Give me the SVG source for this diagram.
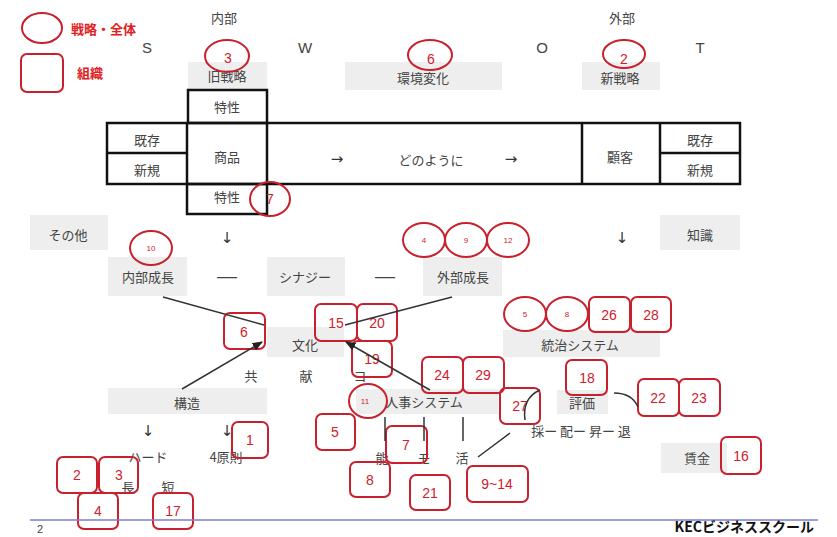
<svg xmlns="http://www.w3.org/2000/svg" width="837" height="537" viewBox="0 0 837 537">
<defs>
<style>
.g{fill:#eeeeee}
.t{font-family:"Noto Sans CJK JP","Noto Sans",sans-serif;font-size:13px;fill:#444;text-anchor:middle}
.a{font-family:"DejaVu Sans",sans-serif;font-size:15px;fill:#333;text-anchor:middle}
.d{font-family:"Liberation Sans",sans-serif;font-size:20px;fill:#444;text-anchor:middle}
.l{font-family:"Liberation Sans",sans-serif;font-size:15px;fill:#444;text-anchor:middle}
.r{fill:none;stroke:#c8202c;stroke-width:2}
.rn{font-family:"Liberation Sans",sans-serif;font-size:14px;fill:#d0202c;text-anchor:middle}
.sn{font-family:"Liberation Sans",sans-serif;font-size:8px;fill:#d0202c;text-anchor:middle}
.tb{fill:none;stroke:#111;stroke-width:2.5}
.ln{fill:none;stroke:#333;stroke-width:1.5}
.leg{font-family:"Noto Sans CJK JP",sans-serif;font-size:13px;font-weight:bold;fill:#e02020}
</style>
<marker id="ah" viewBox="0 0 10 10" refX="9" refY="5" markerWidth="7" markerHeight="7" orient="auto"><path d="M0,1 L10,5 L0,9 z" fill="#222"/></marker>
</defs>
<rect width="837" height="537" fill="#fff"/>

<g id="legend">
<ellipse class="r" cx="42" cy="28" rx="20" ry="15"/>
<text class="leg" x="71" y="34">戦略・全体</text>
<rect class="r" x="21" y="54" width="42" height="38" rx="6"/>
<text class="leg" x="77" y="78">組織</text>
</g>

<g id="headers">
<text class="t" x="224" y="23">内部</text>
<text class="t" x="622" y="23">外部</text>
<text class="l" x="147" y="53">S</text>
<text class="l" x="305" y="53">W</text>
<text class="l" x="542" y="53">O</text>
<text class="l" x="700" y="53">T</text>
</g>

<g id="old-strategy">
<rect class="g" x="188" y="62" width="79" height="27"/>
<text class="t" x="227" y="81">旧戦略</text>
<ellipse class="r" cx="227" cy="56" rx="22" ry="16"/>
<text class="rn" x="228" y="63">3</text>
</g>
<g id="env-change">
<rect class="g" x="345" y="62" width="157" height="28"/>
<text class="t" x="423" y="83">環境変化</text>
<ellipse class="r" cx="430" cy="55" rx="22" ry="15"/>
<text class="rn" x="431" y="64">6</text>
</g>
<g id="new-strategy">
<rect class="g" x="582" y="62" width="78" height="28"/>
<text class="t" x="620" y="83">新戦略</text>
<ellipse class="r" cx="624" cy="54" rx="21" ry="14"/>
<text class="rn" x="624" y="64">2</text>
</g>

<g id="table">
<rect class="tb" x="188" y="90" width="79" height="33"/>
<rect class="tb" x="107" y="123" width="633" height="61"/>
<line class="tb" x1="187" y1="123" x2="187" y2="184"/>
<line class="tb" x1="267" y1="123" x2="267" y2="184"/>
<line class="tb" x1="582" y1="123" x2="582" y2="184"/>
<line class="tb" x1="660" y1="123" x2="660" y2="184"/>
<line class="tb" x1="107" y1="153" x2="187" y2="153"/>
<line class="tb" x1="660" y1="153" x2="740" y2="153"/>
<rect class="tb" x="187" y="184" width="80" height="30"/>
<text class="t" x="227" y="112">特性</text>
<text class="t" x="147" y="145">既存</text>
<text class="t" x="147" y="175">新規</text>
<text class="t" x="227" y="162">商品</text>
<text class="a" x="337" y="164">→</text>
<text class="t" x="431" y="165">どのように</text>
<text class="a" x="511" y="164">→</text>
<text class="t" x="620" y="162">顧客</text>
<text class="t" x="700" y="145">既存</text>
<text class="t" x="700" y="175">新規</text>
<text class="t" x="227" y="202">特性</text>
<ellipse class="r" cx="270" cy="199" rx="20" ry="17"/>
<text class="rn" x="270" y="204">7</text>
</g>

<g id="other">
<rect class="g" x="30" y="215" width="78" height="35"/>
<text class="t" x="68" y="240">その他</text>
</g>
<g id="knowledge">
<rect class="g" x="660" y="215" width="80" height="35"/>
<text class="t" x="700" y="240">知識</text>
</g>
<g id="down-arrows">
<text class="a" x="227" y="243">↓</text>
<text class="a" x="622" y="243">↓</text>
</g>

<g id="internal-growth">
<rect class="g" x="108" y="257" width="79" height="39"/>
<text class="t" x="148" y="282">内部成長</text>
<ellipse class="r" cx="151" cy="248" rx="21" ry="17"/>
<text class="sn" x="151" y="251">10</text>
</g>
<text class="d" x="227" y="283">—</text>
<g id="synergy">
<rect class="g" x="267" y="257" width="78" height="39"/>
<text class="t" x="305" y="282">シナジー</text>
</g>
<text class="d" x="385" y="283">—</text>
<g id="external-growth">
<rect class="g" x="423" y="257" width="79" height="39"/>
<text class="t" x="463" y="282">外部成長</text>
<ellipse class="r" cx="424" cy="240" rx="21" ry="17"/>
<text class="sn" x="424" y="243">4</text>
<ellipse class="r" cx="466" cy="240" rx="21" ry="17"/>
<text class="sn" x="466" y="243">9</text>
<ellipse class="r" cx="508" cy="240" rx="21" ry="17"/>
<text class="sn" x="508" y="243">12</text>
</g>

<g id="governance">
<rect class="g" x="503" y="330" width="157" height="27"/>
<text class="t" x="580" y="350">統治システム</text>
<ellipse class="r" cx="525" cy="314" rx="21" ry="17"/>
<text class="sn" x="525" y="317">5</text>
<ellipse class="r" cx="567" cy="314" rx="21" ry="17"/>
<text class="sn" x="567" y="317">8</text>
<rect class="r" x="589" y="297" width="41" height="35" rx="6"/>
<text class="rn" x="609" y="320">26</text>
<rect class="r" x="631" y="297" width="40" height="35" rx="6"/>
<text class="rn" x="651" y="320">28</text>
</g>

<g id="culture">
<rect class="g" x="267" y="327" width="77" height="30"/>
<text class="t" x="305" y="350">文化</text>
<rect class="r" x="224" y="313" width="41" height="36" rx="6"/>
<text class="rn" x="244" y="337">6</text>
<text class="t" x="251" y="381">共</text>
<text class="t" x="306" y="381">献</text>
<text class="t" x="360" y="381">コ</text>
</g>

<g id="structure">
<rect class="g" x="108" y="388" width="159" height="26"/>
<text class="t" x="187" y="408">構造</text>
<text class="a" x="148" y="436">↓</text>
<text class="a" x="227" y="436">↓</text>
<text class="t" x="148" y="462">ハード</text>
<text class="t" x="226" y="462">4原則</text>
<text class="t" x="128" y="492">長</text>
<text class="t" x="168" y="492">短</text>
<rect class="r" x="232" y="422" width="36" height="36" rx="6"/>
<text class="rn" x="250" y="445">1</text>
<rect class="r" x="57" y="457" width="40" height="36" rx="6"/>
<text class="rn" x="77" y="480">2</text>
<rect class="r" x="99" y="457" width="39" height="36" rx="6"/>
<text class="rn" x="119" y="480">3</text>
<rect class="r" x="78" y="493" width="40" height="36" rx="6"/>
<text class="rn" x="98" y="516">4</text>
<rect class="r" x="153" y="493" width="40" height="36" rx="6"/>
<text class="rn" x="173" y="516">17</text>
</g>

<g id="hr-system">
<rect class="g" x="356" y="389" width="142" height="25"/>
<text class="t" x="424" y="407">人事システム</text>
<ellipse class="r" cx="368" cy="401" rx="19" ry="17"/>
<text class="sn" x="365" y="404">11</text>
<rect class="r" x="422" y="357" width="41" height="36" rx="6"/>
<text class="rn" x="442" y="380">24</text>
<rect class="r" x="463" y="357" width="41" height="36" rx="6"/>
<text class="rn" x="483" y="380">29</text>
<text class="t" x="382" y="463">能</text>
<text class="t" x="424" y="463">モ</text>
<text class="t" x="462" y="463">活</text>
<rect class="r" x="316" y="414" width="39" height="36" rx="6"/>
<text class="rn" x="335" y="437">5</text>
<rect class="r" x="386" y="426" width="41" height="37" rx="6"/>
<text class="rn" x="406" y="450">7</text>
<rect class="r" x="350" y="462" width="40" height="35" rx="6"/>
<text class="rn" x="370" y="485">8</text>
<rect class="r" x="410" y="475" width="40" height="35" rx="6"/>
<text class="rn" x="430" y="498">21</text>
<rect class="r" x="467" y="466" width="61" height="36" rx="6"/>
<text class="rn" x="497" y="489">9~14</text>
</g>

<g id="boxes-15-20-19">
<rect class="r" x="315" y="304" width="42" height="37" rx="6"/>
<text class="rn" x="336" y="328">15</text>
<rect class="r" x="357" y="304" width="40" height="37" rx="6"/>
<text class="rn" x="377" y="328">20</text>
<rect class="r" x="352" y="341" width="40" height="36" rx="6"/>
<text class="rn" x="372" y="364">19</text>
</g>

<g id="evaluation">
<rect class="g" x="557" y="390" width="51" height="24"/>
<text class="t" x="582" y="408">評価</text>
<rect class="r" x="566" y="360" width="41" height="35" rx="6"/>
<text class="rn" x="587" y="383">18</text>
<rect class="r" x="500" y="388" width="40" height="36" rx="6"/>
<text class="rn" x="520" y="411">27</text>
<rect class="r" x="638" y="379" width="41" height="37" rx="6"/>
<text class="rn" x="658" y="403">22</text>
<rect class="r" x="679" y="379" width="41" height="37" rx="6"/>
<text class="rn" x="699" y="403">23</text>
<text class="t" x="581" y="436">採ー 配ー 昇ー 退</text>
</g>

<g id="wage">
<rect class="g" x="661" y="443" width="66" height="30"/>
<text class="t" x="697" y="463">賃金</text>
<rect class="r" x="721" y="437" width="40" height="37" rx="6"/>
<text class="rn" x="741" y="461">16</text>
</g>

<g id="connectors">
<line class="ln" x1="163" y1="297" x2="264" y2="325"/>
<line class="ln" x1="452" y1="297" x2="345" y2="325"/>
<line class="ln" x1="182" y1="389" x2="262" y2="342" marker-end="url(#ah)"/>
<line class="ln" x1="430" y1="390" x2="346" y2="342" marker-end="url(#ah)"/>
<line class="ln" x1="385" y1="417" x2="385" y2="441"/>
<line class="ln" x1="424" y1="417" x2="424" y2="441"/>
<line class="ln" x1="463" y1="417" x2="463" y2="441"/>
<line class="ln" x1="478" y1="457" x2="510" y2="433"/>
<path class="ln" d="M540,390 Q522,398 525,420"/>
<path class="ln" d="M614,393 Q632,393 638,407"/>
</g>

<g id="footer">
<line x1="30" y1="520" x2="818" y2="520" stroke="#7b7bd0" stroke-width="1.5"/>
<text x="40" y="533" font-family="Liberation Sans, sans-serif" font-size="11" fill="#444" text-anchor="middle">2</text>
<text x="814" y="532" font-family="Noto Sans CJK JP, sans-serif" font-size="14" font-weight="bold" fill="#111" text-anchor="end">KECビジネススクール</text>
</g>
</svg>
